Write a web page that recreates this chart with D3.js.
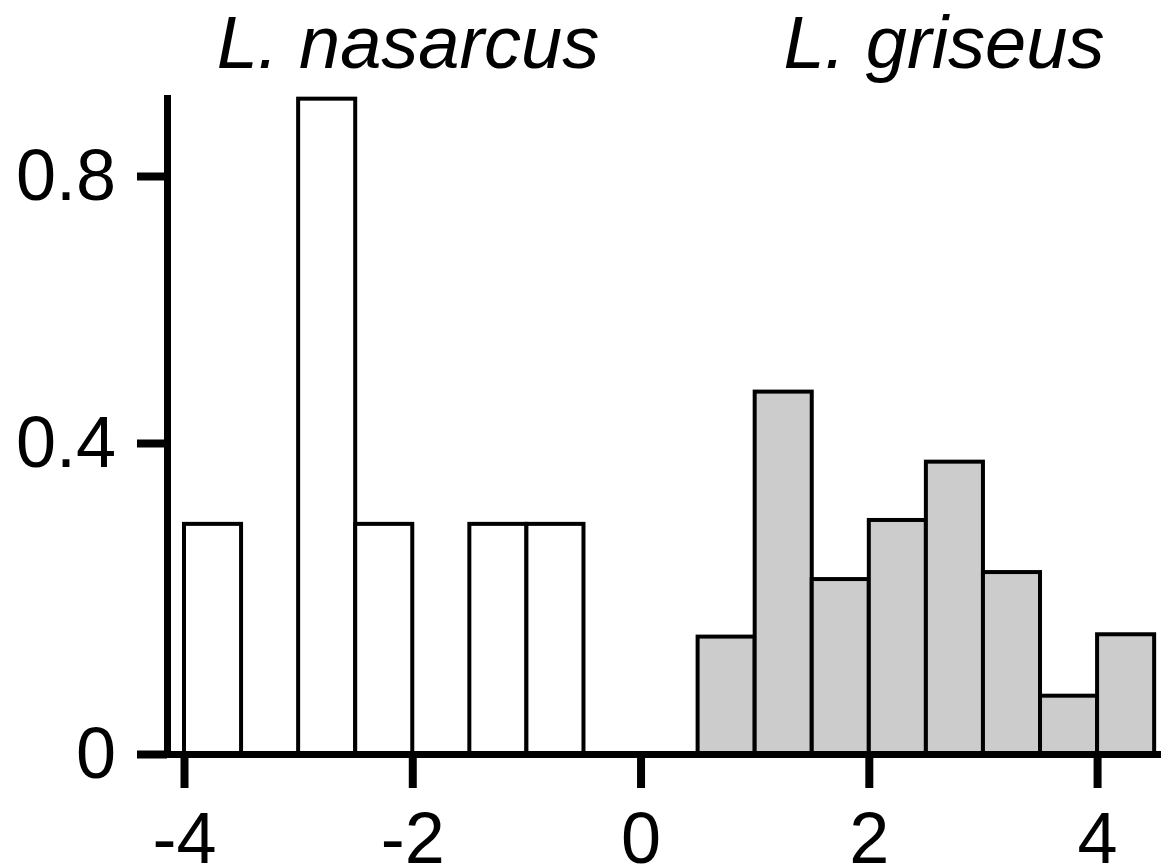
<!DOCTYPE html>
<html>
<head>
<meta charset="utf-8">
<script src="https://cdn.jsdelivr.net/npm/d3@7"></script>
<style>
  html, body { margin: 0; padding: 0; background: #fff; }
  svg { display: block; font-family: "Liberation Sans", Arial, Helvetica, sans-serif; }
  .axis text { font-size: 72px; fill: #000; }
  .title { font-size: 74px; font-style: italic; }
</style>
</head>
<body>
<div id="chart"></div>
<script>
'use strict';

// histogram bins (left edge of each 0.5-wide bin) and density values
const bin_width = 0.5;
const nasarcus_bins = [-4, -3, -2.5, -1.5, -1];
const nasarcus_values = [0.296, 0.916, 0.296, 0.296, 0.296];
const griseus_bins = [0.5, 1, 1.5, 2, 2.5, 3, 3.5, 4];
const griseus_values = [0.151, 0.477, 0.225, 0.301, 0.376, 0.234, 0.075, 0.154];

const x_ticks = [-4, -2, 0, 2, 4];
const y_ticks = [0, 0.4, 0.8];
const titles = ['L. nasarcus', 'L. griseus'];


function make_dataset(bins, values, fill) {
    return bins.map((b, i) => ({ x0: b, x1: b + bin_width, value: values[i], fill: fill }));
}


let dim = {
    width: 1161,
    height: 865
};

let svg = d3.select('#chart')
    .append('svg')
    .attr('width', dim.width)
    .attr('height', dim.height);

const xScale = d3.scaleLinear()
    .domain([-4.184, 4.56])
    .range([163, 1161]);

// the printed y axis is not evenly spaced, so map each labelled tick to where it sits
const yScale = d3.scaleLinear()
    .domain([0, 0.4, 0.8, 0.917])
    .range([754, 443, 176, 98]);

let dataset = make_dataset(nasarcus_bins, nasarcus_values, '#ffffff')
    .concat(make_dataset(griseus_bins, griseus_values, '#cccccc'));

svg.append('g')
    .selectAll('rect')
    .data(dataset)
    .enter()
    .append('rect')
    .attr('x', (d) => xScale(d.x0))
    .attr('y', (d) => yScale(d.value))
    .attr('width', (d) => xScale(d.x1) - xScale(d.x0))
    .attr('height', (d) => yScale(0) - yScale(d.value))
    .attr('fill', (d) => d.fill)
    .attr('stroke', '#000')
    .attr('stroke-width', 4);

// x axis
let xAxis = svg.append('g')
    .attr('class', 'axis')
    .attr('transform', `translate(0, ${yScale(0)})`)
    .call(d3.axisBottom(xScale)
        .tickValues(x_ticks)
        .tickFormat(d3.format('d'))
        .tickSize(34)
        .tickSizeOuter(0)
        .tickPadding(24));

xAxis.select('.domain').attr('stroke-width', 7);
xAxis.selectAll('.tick line').attr('stroke-width', 8);
xAxis.selectAll('.tick text').text((d) => d < 0 ? '-' + Math.abs(d) : d);

// y axis
let yAxis = svg.append('g')
    .attr('class', 'axis')
    .attr('transform', `translate(${xScale(-4.184) + 4}, 0)`)
    .call(d3.axisLeft(yScale)
        .tickValues(y_ticks)
        .tickFormat((d) => d === 0 ? '0' : d3.format('.1f')(d))
        .tickSize(30)
        .tickSizeOuter(0)
        .tickPadding(21));

yAxis.select('.domain').attr('stroke-width', 7).attr('stroke-linecap', 'square');
yAxis.selectAll('.tick line').attr('stroke-width', 8);

// species labels
svg.selectAll('.title')
    .data(titles)
    .enter()
    .append('text')
    .attr('class', 'title')
    .attr('x', (d, i) => [408, 944][i])
    .attr('y', 68)
    .attr('text-anchor', 'middle')
    .text((d) => d);
</script>
</body>
</html>
